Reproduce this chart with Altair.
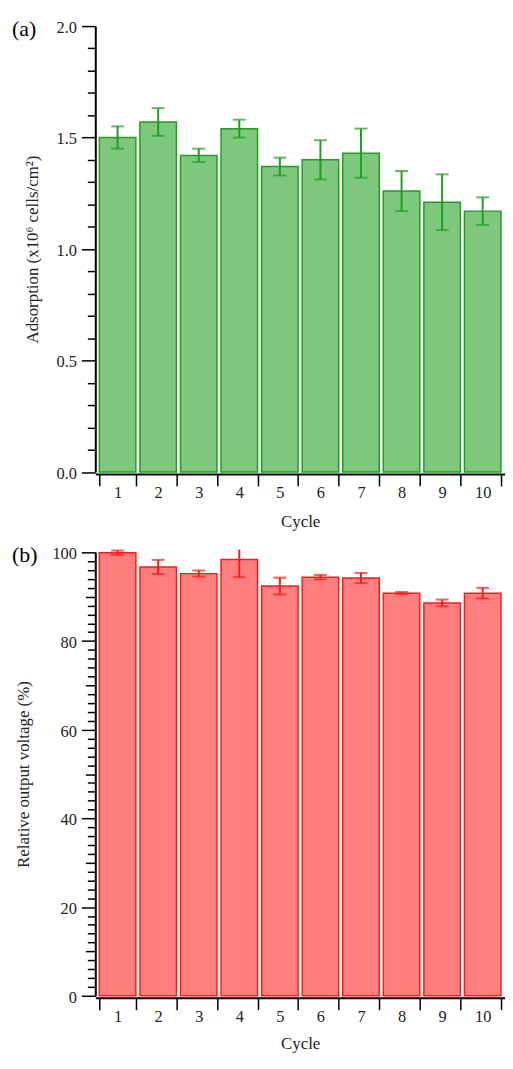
import altair as alt
import pandas as pd

cycles = [1, 2, 3, 4, 5, 6, 7, 8, 9, 10]
adsorption = [1.50, 1.57, 1.42, 1.54, 1.37, 1.40, 1.43, 1.26, 1.21, 1.17]
adsorption_err = [0.05, 0.062, 0.03, 0.04, 0.04, 0.088, 0.11, 0.09, 0.125, 0.062]
voltage = [99.9, 96.7, 95.2, 98.4, 92.4, 94.4, 94.2, 90.8, 88.6, 90.8]
voltage_err = [0.5, 1.6, 0.7, 4.0, 1.9, 0.5, 1.15, 0.25, 0.75, 1.2]

top_ticks = [round(i * 0.1, 1) for i in range(21)]
bottom_ticks = list(range(0, 101, 2))

FONT = "Liberation Serif"
W = 413


def panel(values, errs, clip_top, ticks, label_expr, size_expr, title, title_pad,
          domain, fill, stroke, tag, tag_y, height, x_title_pad):
    df = pd.DataFrame({"cycle": cycles, "v": values, "e": errs})
    base = alt.Chart(df).transform_calculate(
        lo="datum.v - datum.e",
        hi="datum.v + datum.e",
        hi_draw=f"min(datum.v + datum.e, {clip_top})",
    )
    x = alt.X(
        "cycle:O",
        scale=alt.Scale(paddingInner=0.1, paddingOuter=0.1),
        axis=alt.Axis(
            title="Cycle", labelAngle=0, tickBand="extent", tickSize=12,
            labelPadding=-1.3, offset=2, titlePadding=x_title_pad,
        ),
    )
    y = alt.Y(
        "v:Q",
        scale=alt.Scale(domain=domain, nice=False, zero=True),
        axis=alt.Axis(
            title=title, values=ticks, tickCount=1000, labelExpr=label_expr,
            labelOverlap=False, labelOffset=1.5,
            tickSize={"expr": size_expr}, labelPadding=5, titlePadding=title_pad,
            grid=False,
        ),
    )
    bars = base.mark_bar(fill=fill, stroke=stroke, strokeWidth=1.5).encode(x=x, y=y)
    rule = base.mark_rule(color=stroke, strokeWidth=2).encode(
        x="cycle:O", y="lo:Q", y2="hi_draw:Q"
    )
    cap_hi = base.transform_filter(f"datum.hi <= {clip_top}").mark_tick(
        color=stroke, size=13, thickness=2
    ).encode(x="cycle:O", y="hi:Q")
    cap_lo = base.mark_tick(color=stroke, size=13, thickness=2).encode(
        x="cycle:O", y="lo:Q"
    )
    lab = alt.Chart(pd.DataFrame({"t": [tag]})).mark_text(
        font=FONT, fontSize=22, align="left", baseline="alphabetic", color="black"
    ).encode(text="t:N", x=alt.value(-84), y=alt.value(tag_y))
    return alt.layer(bars, rule, cap_hi, cap_lo, lab).properties(width=W, height=height)


top = panel(
    adsorption, adsorption_err, 2.05, top_ticks,
    "abs(datum.value*2 - round(datum.value*2)) < 1e-6 ? format(datum.value, '.1f') : ''",
    "abs(datum.value*2 - round(datum.value*2)) < 1e-6 ? 14 : 8",
    "Adsorption (x10\u2076 cells/cm\u00b2)", 15, [0, 2],
    "#7ec87e", "#1f9e1f", "(a)", 10.3, 449.5, 13,
)
bottom = panel(
    voltage, voltage_err, 100.6, bottom_ticks,
    "datum.value % 20 == 0 ? format(datum.value, 'd') : ''",
    "datum.value % 20 == 0 ? 14 : (datum.value % 10 == 0 ? 10 : 8)",
    "Relative output voltage (%)", 20, [0, 100],
    "#ff7f7f", "#ff1a1a", "(b)", 9.75, 447, 11,
)

chart = alt.vconcat(top, bottom, spacing=13.5).properties(
    padding={"left": 4, "top": 6, "right": 0, "bottom": 0}
).configure_view(stroke=None).configure_axis(
    domainColor="black", domainWidth=2, tickColor="black", tickWidth=1.5,
    labelFont=FONT, labelFontSize=16.5, labelColor="#222222",
    titleFont=FONT, titleFontSize=17, titleFontWeight="normal", titleColor="#222222",
)

chart.save("out.html", embed_options={"renderer": "svg", "actions": False})
